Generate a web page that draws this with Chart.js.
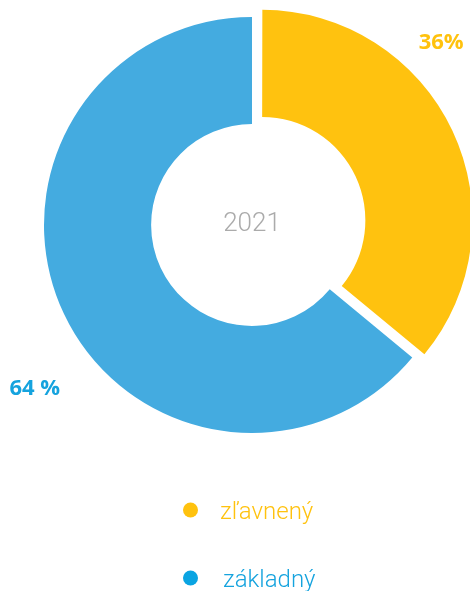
<!DOCTYPE html>
<html>
<head>
  <meta charset="utf-8">
  <title>2021</title>
  <script src="https://cdn.jsdelivr.net/npm/chart.js"></script>
  <style>
    html, body { margin: 0; padding: 0; background: #fff; }
    #wrap { width: 470px; height: 591px; position: relative; overflow: hidden; }
    /* canvas a bit bigger than the page so the offset slice has room */
    #donut { position: absolute; left: 0; top: -10px; }
  </style>
</head>
<body>
  <div id="wrap"><canvas id="donut" width="500" height="601"></canvas></div>
  <script>
    // data
    const categories = ['zľavnený', 'základný'];
    const shares = [36, 64];
    const valueLabels = ['36%', '64 %'];
    const centerTitle = '2021';

    const sliceColors = ['#FFC20F', '#44ABE0'];
    const labelColors = ['#FFC20E', '#15A3DE'];
    const dotColors = ['#FFC20E', '#0AA4E2'];

    const shiftY = 10; // canvas is moved up by this much

    // where the value labels sit (angle from top clockwise, distance from centre)
    const labelSpots = [
      { angle: 46, dist: 263 },
      { angle: 233, dist: 272 }
    ];

    // centre year text
    const centerPlugin = {
      id: 'centerText',
      afterDraw(chart) {
        const arc = chart.getDatasetMeta(0).data[1];
        const ctx = chart.ctx;
        ctx.save();
        ctx.font = '300 26px Roboto';
        ctx.fillStyle = '#ABABAB';
        ctx.textAlign = 'center';
        ctx.textBaseline = 'middle';
        ctx.fillText(centerTitle, arc.x, arc.y - 1);
        ctx.restore();
      }
    };

    // percentage labels outside the ring
    const valuePlugin = {
      id: 'valueLabels',
      afterDraw(chart) {
        const arc = chart.getDatasetMeta(0).data[1];
        const ctx = chart.ctx;
        ctx.save();
        ctx.font = 'bold 22px "Open Sans"';
        ctx.textBaseline = 'middle';
        ctx.textAlign = 'center';
        valueLabels.forEach((txt, i) => {
          const s = labelSpots[i];
          const a = s.angle * Math.PI / 180;
          ctx.fillStyle = labelColors[i];
          ctx.fillText(txt, arc.x + Math.sin(a) * s.dist, arc.y - Math.cos(a) * s.dist);
        });
        ctx.restore();
      }
    };

    // vertical legend under the ring
    const legendPlugin = {
      id: 'vertLegend',
      afterDraw(chart) {
        const ctx = chart.ctx;
        ctx.save();
        ctx.font = '300 24px Roboto';
        ctx.textBaseline = 'alphabetic';
        ctx.textAlign = 'left';
        chart.data.labels.forEach((lab, i) => {
          const cy = 510 + shiftY + i * 68;
          ctx.beginPath();
          ctx.arc(190.5, cy, 7.5, 0, Math.PI * 2);
          ctx.fillStyle = dotColors[i];
          ctx.fill();
          ctx.fillStyle = labelColors[i];
          ctx.fillText(lab, 220 + i * 3, cy + 9);
        });
        ctx.restore();
      }
    };

    const chart = new Chart(document.getElementById('donut'), {
      type: 'doughnut',
      data: {
        labels: categories,
        datasets: [{
          data: shares,
          backgroundColor: sliceColors,
          borderWidth: 0,
          offset: [44, 0],   // chart.js moves an arc by offset/4
          hoverOffset: 0
        }]
      },
      options: {
        responsive: false,
        animation: false,
        cutout: '48.5%',
        layout: { padding: { left: 22, right: 18, top: 5, bottom: 136 } },
        plugins: {
          legend: { display: false },
          tooltip: { enabled: false }
        },
        events: []
      },
      plugins: [centerPlugin, valuePlugin, legendPlugin]
    });
  </script>
</body>
</html>
